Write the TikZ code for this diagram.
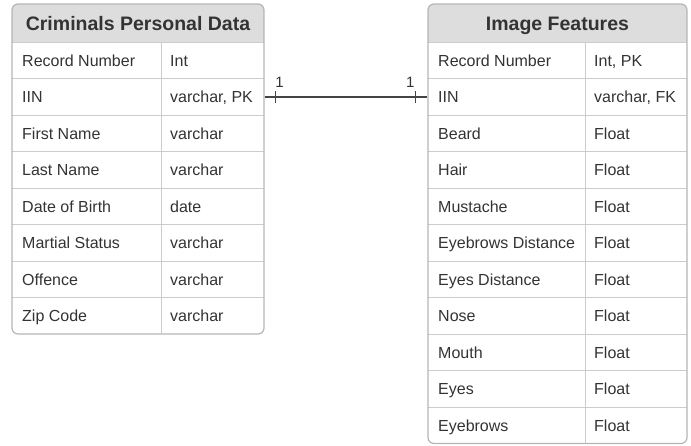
\documentclass[tikz,border=0pt]{standalone}
\usepackage{fontspec}
\setmainfont{Liberation Sans}
\definecolor{txt}{HTML}{333333}
\definecolor{hdr}{HTML}{DDDDDD}
\definecolor{bord}{HTML}{B5B5B5}
\definecolor{gridc}{HTML}{CCCCCC}
\definecolor{conc}{HTML}{444444}
\begin{document}
\begin{tikzpicture}[x=1pt,y=-1pt,
  tablebox/.style={draw=bord, line width=1.2pt, rounded corners=6pt, inner sep=0pt, minimum width=#1},
  hdrtext/.style={anchor=base, text=txt, font=\fontsize{19.5}{22}\selectfont\bfseries, inner sep=0pt},
  cell/.style={anchor=base west, text=txt, font=\fontsize{16}{18}\selectfont, inner sep=0pt},
  gridline/.style={draw=gridc, line width=1pt},
  conn/.style={draw=conc, line width=1.2pt},
  card/.style={anchor=base, text=txt, font=\fontsize{15}{17}\selectfont, inner sep=0pt}]
\useasboundingbox (0,0) rectangle (691,445);

% ---------- left table ----------
\begin{scope}
  \clip[rounded corners=6pt] (12,4) rectangle (264,334);
  \fill[hdr] (12,4) rectangle (264,42);
\end{scope}
\foreach \i in {1,...,7} \draw[gridline] (12,{42+36.5*\i}) -- (264,{42+36.5*\i});
\draw[gridline] (12,42) -- (264,42);
\draw[gridline] (161,42) -- (161,334);
\node[tablebox=252pt, minimum height=330pt] (L) at (138,169) {};
\node[hdrtext] (LH) at (138,30.5) {Criminals Personal Data};
\foreach [count=\i from 0] \a/\b in {Record Number/Int, IIN/{varchar, PK}, First Name/varchar, Last Name/varchar, Date of Birth/date, Martial Status/varchar, Offence/varchar, Zip Code/varchar}{
  \node[cell] (L-a\i) at (22,{66.2+36.5*\i}) {\a};
  \node[cell] (L-b\i) at (170,{66.2+36.5*\i}) {\b};
}

% ---------- right table ----------
\begin{scope}
  \clip[rounded corners=6pt] (428,4) rectangle (687,443.5);
  \fill[hdr] (428,4) rectangle (687,42);
\end{scope}
\foreach \i in {1,...,10} \draw[gridline] (428,{42+36.5*\i}) -- (687,{42+36.5*\i});
\draw[gridline] (428,42) -- (687,42);
\draw[gridline] (585,42) -- (585,443.5);
\node[tablebox=259pt, minimum height=439.5pt] (R) at (557.5,223.75) {};
\node[hdrtext] (RH) at (557.5,30.5) {Image Features};
\foreach [count=\i from 0] \a/\b in {Record Number/{Int, PK}, IIN/{varchar, FK}, Beard/Float, Hair/Float, Mustache/Float, Eyebrows Distance/Float, Eyes Distance/Float, Nose/Float, Mouth/Float, Eyes/Float, Eyebrows/Float}{
  \node[cell] (R-a\i) at (438,{66.2+36.5*\i}) {\a};
  \node[cell] (R-b\i) at (594,{66.2+36.5*\i}) {\b};
}

% ---------- relationship ----------
\coordinate (A) at (L.east |- 0,97);
\coordinate (B) at (R.west |- 0,97);
\draw[conn] (A) -- (B);
\draw[conn, line width=0.9pt] ([xshift=11pt]A) ++(0,-6) -- ++(0,12);
\draw[conn, line width=0.9pt] ([xshift=-12pt]B) ++(0,-6) -- ++(0,12);
\node[card] (c1) at ([xshift=15pt,yshift=9.7pt]A) {1};
\node[card] (c2) at ([xshift=-17pt,yshift=9.7pt]B) {1};
\end{tikzpicture}
\end{document}
